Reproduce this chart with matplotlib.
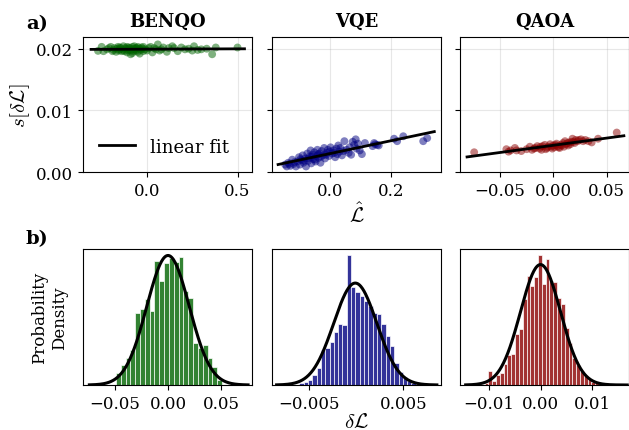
import numpy as np
import matplotlib
matplotlib.use('Agg')
import matplotlib.pyplot as plt

plt.rcParams['font.family'] = ['DejaVu Serif']
plt.rcParams['mathtext.fontset'] = 'cm'
plt.rcParams['font.size'] = 12

methods = ['BENQO', 'VQE', 'QAOA']
colors = ['darkgreen', 'navy', 'darkred']

# ---- a) scatter data: predicted loss vs. spread of the loss error ----
benqo_x = [-0.27, -0.25, -0.24, -0.22, -0.20, -0.19, -0.18, -0.17, -0.16, -0.15,
           -0.15, -0.14, -0.13, -0.13, -0.12, -0.11, -0.11, -0.10, -0.10, -0.09,
           -0.09, -0.08, -0.08, -0.07, -0.07, -0.06, -0.06, -0.05, -0.05, -0.04,
           -0.04, -0.03, -0.02, -0.02, -0.01, 0.00, 0.01, 0.02, 0.03, 0.05,
           0.06, 0.07, 0.09, 0.11, 0.12, 0.14, 0.17, 0.19, 0.21, 0.25,
           0.26, 0.28, 0.33, 0.36, 0.38, 0.50,
           -0.21, -0.185, -0.165, -0.155, -0.145, -0.125, -0.115, -0.105, -0.095, -0.085,
           -0.075, -0.065, -0.055, -0.035, -0.025, 0.04, 0.08, 0.15, 0.23, 0.30]
benqo_y = [0.01965, 0.0203, 0.0196, 0.0199, 0.0203, 0.0196, 0.0201, 0.0195, 0.0203, 0.0199,
           0.0202, 0.0196, 0.0204, 0.0198, 0.0201, 0.0194, 0.0203, 0.0199, 0.0202, 0.0191,
           0.0197, 0.0203, 0.0193, 0.0200, 0.0204, 0.0197, 0.0201, 0.0203, 0.0195, 0.0200,
           0.0192, 0.0202, 0.0196, 0.0203, 0.0199, 0.0197, 0.0201, 0.0203, 0.0194, 0.0199,
           0.0207, 0.0197, 0.0202, 0.0195, 0.0201, 0.0204, 0.0196, 0.0202, 0.0199, 0.0197,
           0.0204, 0.0198, 0.0200, 0.0191, 0.0202, 0.0202,
           0.0201, 0.0198, 0.0200, 0.0197, 0.0201, 0.0196, 0.0200, 0.0197, 0.0201, 0.0199,
           0.0196, 0.0199, 0.0201, 0.0198, 0.0200, 0.0201, 0.0199, 0.0201, 0.0200, 0.0199]

vqe_x = [-0.145, -0.140, -0.135, -0.128, -0.122, -0.118, -0.110, -0.105, -0.100, -0.097,
         -0.092, -0.088, -0.085, -0.080, -0.077, -0.073, -0.070, -0.066, -0.062, -0.060,
         -0.056, -0.053, -0.050, -0.046, -0.043, -0.040, -0.036, -0.033, -0.030, -0.026,
         -0.022, -0.018, -0.015, -0.010, -0.006, -0.002, 0.003, 0.008, 0.012, 0.018,
         0.022, 0.028, 0.032, 0.040, 0.048, 0.055, 0.062, 0.070, 0.075, 0.080,
         0.085, 0.092, 0.098, 0.105, 0.115, 0.140, 0.148, 0.155, 0.210, 0.220,
         0.240, 0.305, 0.318,
         -0.132, -0.115, -0.095, -0.083, -0.068, -0.058, -0.048, -0.038, -0.028, -0.012,
         0.000, 0.015, 0.025, 0.035, 0.045, 0.065, 0.088, 0.145, 0.160]
vqe_y = [0.0012, 0.0009, 0.0015, 0.0010, 0.0020, 0.0013, 0.0009, 0.0017, 0.0024, 0.0012,
         0.0019, 0.0027, 0.0015, 0.0022, 0.0009, 0.0030, 0.0018, 0.0025, 0.0035, 0.0014,
         0.0028, 0.0021, 0.0032, 0.0017, 0.0026, 0.0036, 0.0023, 0.0030, 0.0015, 0.0034,
         0.0027, 0.0039, 0.0022, 0.0031, 0.0036, 0.0026, 0.0040, 0.0030, 0.0035, 0.0024,
         0.0038, 0.0043, 0.0033, 0.0027, 0.0050, 0.0036, 0.0031, 0.0028, 0.0049, 0.0044,
         0.0053, 0.0046, 0.0035, 0.0029, 0.0047, 0.0042, 0.0045, 0.0044, 0.0054, 0.0050,
         0.0058, 0.0050, 0.0055,
         0.0013, 0.0016, 0.0021, 0.0018, 0.0022, 0.0025, 0.0020, 0.0029, 0.0025, 0.0028,
         0.0033, 0.0031, 0.0029, 0.0039, 0.0034, 0.0040, 0.0038, 0.0047, 0.0043]

qaoa_x = [-0.0742, -0.0440, -0.0420, -0.0360, -0.0345, -0.0300, -0.0250, -0.0220, -0.0200, -0.0170,
          -0.0150, -0.0130, -0.0110, -0.0100, -0.0080, -0.0060, -0.0050, -0.0030, -0.0010, 0.0000,
          0.0010, 0.0030, 0.0040, 0.0060, 0.0070, 0.0090, 0.0100, 0.0110, 0.0120, 0.0140,
          0.0150, 0.0170, 0.0180, 0.0200, 0.0210, 0.0230, 0.0260, 0.0280, 0.0300, 0.0360,
          0.0420, 0.0595,
          -0.0400, -0.0180, -0.0120, -0.0070, -0.0020, 0.0020, 0.0050, 0.0080, 0.0130, 0.0160,
          0.0190, 0.0240, 0.0330]
qaoa_y = [0.0032, 0.0037, 0.0033, 0.0039, 0.0035, 0.0034, 0.0037, 0.0041, 0.0036, 0.0039,
          0.0042, 0.0038, 0.0036, 0.0042, 0.0044, 0.0039, 0.0041, 0.0045, 0.0038, 0.0043,
          0.0040, 0.0046, 0.0042, 0.0039, 0.0044, 0.0047, 0.0041, 0.0050, 0.0045, 0.0043,
          0.0048, 0.0049, 0.0054, 0.0047, 0.0052, 0.0050, 0.0053, 0.0050, 0.0052, 0.0048,
          0.0054, 0.0064,
          0.0035, 0.0038, 0.0041, 0.0037, 0.0041, 0.0044, 0.0040, 0.0043, 0.0047, 0.0045,
          0.0049, 0.0052, 0.0050]

# ---- b) histograms of the loss error (probability density per bin) ----
benqo_bin_range = (-0.0491, 0.0509)
benqo_density = [1.80, 3.09, 4.22, 5.40, 11.16, 11.67, 13.21, 11.41, 19.02, 16.04,
                 18.77, 19.54, 18.92, 19.69, 14.40, 13.37, 6.53, 5.66, 6.17, 4.11,
                 2.73, 0.77]
vqe_bin_range = (-0.00604, 0.00678)
vqe_density = [2.9, 4.6, 8.6, 17.3, 28.8, 60.4, 63.3, 73.0, 90.3, 103.5,
               102.4, 221.4, 166.8, 159.3, 152.4, 143.8, 135.1, 123.6, 120.8, 103.5,
               83.4, 66.1, 37.4, 23.0, 14.4, 6.9, 3.5, 1.7]
qaoa_bin_range = (-0.01083, 0.01134)
qaoa_density = [1.4, 12.0, 3.4, 8.6, 10.0, 17.8, 25.2, 26.4, 43.6, 47.3,
                73.1, 93.1, 84.5, 91.7, 110.3, 86.0, 107.5, 88.8, 87.4, 74.5,
                68.8, 48.7, 35.8, 22.9, 17.2, 11.5, 8.0, 5.2, 2.9, 1.4]

# Gaussian fits (mean, std) and range over which the fit curve is drawn
fit_mu = [0.0, -0.0001, 0.0]
fit_sigma = [0.020, 0.00229, 0.00389]
curve_range = [(-0.074, 0.0753), (-0.00845, 0.00856), (-0.0145, 0.0168)]

# axis ranges and ticks
top_xlim = [(-0.353, 0.58), (-0.188, 0.363), (-0.0875, 0.071)]
top_xticks = [[0.0, 0.5], [0.0, 0.2], [-0.05, 0.0, 0.05]]
top_ylim = (0.0, 0.0219)
top_yticks = [0.0, 0.01, 0.02]
bottom_xlim = [(-0.080, 0.079), (-0.00894, 0.0090), (-0.0156, 0.01715)]
bottom_xticks = [[-0.05, 0.0, 0.05], [-0.005, 0.005], [-0.01, 0.0, 0.01]]

scatter_x = [benqo_x, vqe_x, qaoa_x]
scatter_y = [benqo_y, vqe_y, qaoa_y]
bin_ranges = [benqo_bin_range, vqe_bin_range, qaoa_bin_range]
densities = [benqo_density, vqe_density, qaoa_density]

fig = plt.figure(figsize=(6.29, 4.31), dpi=100)
W, H = 629, 431
lefts = [83, 272, 460]
width = 169
top_row = (38, 173)
bot_row = (250, 386)

def add_ax(left, rows):
    t, b = rows
    return fig.add_axes([left / W, 1 - b / H, width / W, (b - t) / H])

top_axes = [add_ax(l, top_row) for l in lefts]
bot_axes = [add_ax(l, bot_row) for l in lefts]

for i, ax in enumerate(top_axes):
    x = np.array(scatter_x[i]); y = np.array(scatter_y[i])
    ax.grid(True, alpha=0.3)
    ax.set_axisbelow(True)
    ax.scatter(x, y, s=32, color=colors[i], alpha=0.5, edgecolors='none', zorder=2)
    k, c = np.polyfit(x, y, 1)
    rng = x.max() - x.min()
    xs = np.linspace(x.min() - 0.05 * rng, x.max() + 0.05 * rng, 50)
    ax.plot(xs, k * xs + c, color='black', lw=2, label='linear fit', zorder=3)
    ax.set_xlim(*top_xlim[i])
    ax.set_xticks(top_xticks[i])
    ax.set_ylim(*top_ylim)
    ax.set_yticks(top_yticks)
    ax.set_title(methods[i], fontweight='bold', fontsize=13, pad=8)
    if i > 0:
        ax.tick_params(labelleft=False)

top_axes[0].set_ylabel(r'$s[\delta\mathcal{L}]$', fontsize=15, labelpad=3)
top_axes[0].legend(loc='lower left', frameon=False, fontsize=13)
top_axes[1].set_xlabel(r'$\hat{\mathcal{L}}$', fontsize=15, labelpad=2)

for i, ax in enumerate(bot_axes):
    lo, hi = bin_ranges[i]
    d = np.array(densities[i])
    edges = np.linspace(lo, hi, len(d) + 1)
    centers = 0.5 * (edges[:-1] + edges[1:])
    ax.bar(centers, d, width=edges[1] - edges[0], color=colors[i], alpha=0.8,
           edgecolor='white', linewidth=0.6)
    xs = np.linspace(curve_range[i][0], curve_range[i][1], 300)
    pdf = np.exp(-0.5 * ((xs - fit_mu[i]) / fit_sigma[i]) ** 2) / (np.sqrt(2 * np.pi) * fit_sigma[i])
    ax.plot(xs, pdf, color='black', lw=2.2)
    ax.set_xlim(*bottom_xlim[i])
    ax.set_xticks(bottom_xticks[i])
    ax.set_yticks([])
    ax.set_ylim(0, 1.05 * max(d.max(), pdf.max()))

bot_axes[0].set_ylabel('Probability\nDensity', labelpad=11)
bot_axes[1].set_xlabel(r'$\delta\mathcal{L}$', fontsize=15, labelpad=0)

fig.text(37 / W, 1 - 24 / H, 'a)', fontsize=14, fontweight='bold', ha='center', va='center')
fig.text(37 / W, 1 - 239 / H, 'b)', fontsize=14, fontweight='bold', ha='center', va='center')

fig.savefig('out.png', dpi=100)
